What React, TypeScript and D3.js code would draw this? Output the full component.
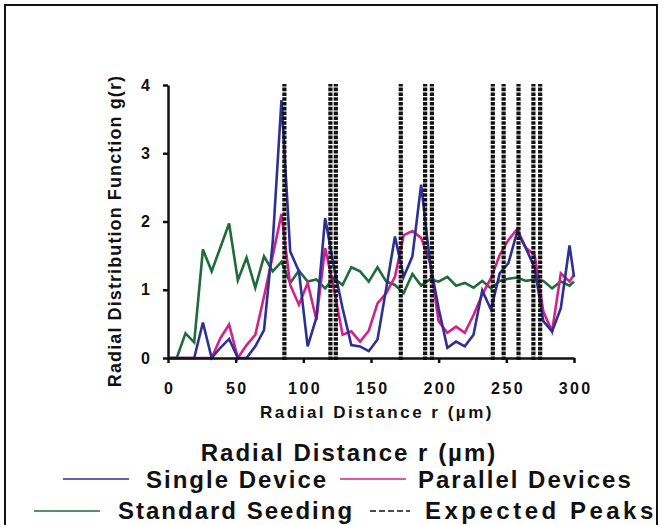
import React, { useRef, useEffect } from "react";
import { select, scaleLinear, axisBottom, axisLeft, line } from "d3";

// radial bins (µm)
const radius = [
  0, 6.45, 12.9, 19.35, 25.8, 32.25, 38.7, 45.15, 51.6, 58.05, 64.5, 70.95,
  77.4, 83.85, 90.3, 96.75, 103.2, 109.65, 116.1, 122.55, 129, 135.45, 141.9,
  148.35, 154.8, 161.25, 167.7, 174.15, 180.6, 187.05, 193.5, 199.95, 206.4,
  212.85, 219.3, 225.75, 232.2, 238.65, 245.1, 251.55, 258, 264.45, 270.9,
  277.35, 283.8, 290.25, 296.7, 300
];

const singleDevice = [
  0, 0, 0, 0, 0.52, 0, 0.15, 0.28, 0, 0, 0.17, 0.41, 1.7, 3.78, 1.56, 1.27,
  0.17, 0.59, 2.05, 1.34, 0.73, 0.19, 0.17, 0.1, 0.27, 1.02, 1.78, 1.19, 1.49,
  2.54, 1.41, 0.73, 0.15, 0.24, 0.17, 0.34, 0.99, 0.71, 1.24, 1.39, 1.85, 1.61,
  1.32, 0.54, 0.39, 0.73, 1.65, 1.19
];

const parallelDevices = [
  0, 0, 0, 0, 0, 0, 0.29, 0.49, 0, 0.19, 0.34, 0.9, 1.5, 2.11, 1.07, 0.78,
  1.1, 0.56, 1.61, 1.02, 0.34, 0.39, 0.24, 0.4, 0.8, 0.95, 1.19, 1.8, 1.86,
  1.76, 1.41, 0.54, 0.37, 0.46, 0.37, 0.63, 0.93, 1.17, 1.51, 1.73, 1.89, 1.61,
  1.51, 0.68, 0.39, 1.24, 1.12, 1.22
];

const standardSeeding = [
  0, 0, 0.36, 0.23, 1.59, 1.27, 1.62, 1.97, 1.14, 1.47, 1.03, 1.49, 1.27, 1.41,
  1.1, 1.28, 1.12, 1.15, 1.02, 1.17, 1.07, 1.33, 1.27, 1.12, 1.33, 1.12, 1.07,
  0.95, 1.23, 1.06, 1.15, 1.12, 1.19, 1.06, 1.1, 1.03, 1.13, 1.02, 1.13, 1.16,
  1.18, 1.13, 1.15, 1.13, 1.02, 1.12, 1.06, 1.12
];

const expectedPeaks = [86, 120, 124, 172, 190, 195, 240, 248, 259, 270, 275];

const xTicks = [0, 50, 100, 150, 200, 250, 300];
const yTicks = [0, 1, 2, 3, 4];

const FONT = "'Liberation Sans', Arial, Helvetica, sans-serif";
const BLUE = "#2e3192";
const PINK = "#d4218a";
const GREEN = "#1f6b3a";

const App = () => {
  const svgRef = useRef(null);

  useEffect(() => {
    const svg = select(svgRef.current);

    const xScale = scaleLinear().domain([0, 300]).range([168, 574]);
    const yScale = scaleLinear().domain([0, 4]).range([358, 85]);

    const series = [
      { values: standardSeeding, color: GREEN },
      { values: parallelDevices, color: PINK },
      { values: singleDevice, color: BLUE }
    ];

    const pathGen = line()
      .x(d => xScale(d[0]))
      .y(d => yScale(d[1]));

    svg
      .select(".series")
      .selectAll("path")
      .data(series)
      .join("path")
      .attr("d", s => pathGen(radius.map((r, i) => [r, s.values[i]])))
      .attr("fill", "none")
      .attr("stroke", s => s.color)
      .attr("stroke-width", 2.6);

    svg
      .select(".peaks")
      .selectAll("line")
      .data(expectedPeaks)
      .join("line")
      .attr("x1", d => xScale(d))
      .attr("x2", d => xScale(d))
      .attr("y1", yScale(0) + 2)
      .attr("y2", yScale(4) - 1)
      .attr("stroke", "#111")
      .attr("stroke-width", 4.2)
      .attr("stroke-dasharray", "3.6 1.2");

    const xAxis = axisBottom(xScale)
      .tickValues(xTicks)
      .tickFormat(d => String(d))
      .tickSize(5)
      .tickSizeOuter(0)
      .tickPadding(20);

    svg
      .select(".x-axis")
      .attr("transform", `translate(0,${yScale(0)})`)
      .call(xAxis)
      .call(g => g.select(".domain").attr("stroke-width", 2.5).attr("stroke", "#111"))
      .call(g => g.selectAll(".tick line").attr("stroke-width", 2.5).attr("stroke", "#111"))
      .call(g =>
        g
          .selectAll(".tick text")
          .attr("fill", "#111")
          .attr("dx", 1.2)
          .style("font-family", FONT)
          .style("font-weight", "bold")
          .style("font-size", "16px")
          .style("letter-spacing", "2.4px")
      );

    const yAxis = axisLeft(yScale)
      .tickValues(yTicks)
      .tickFormat(d => String(d))
      .tickSize(5)
      .tickSizeOuter(0)
      .tickPadding(13);

    svg
      .select(".y-axis")
      .attr("transform", `translate(${xScale(0)},0)`)
      .call(yAxis)
      .call(g => g.select(".domain").attr("stroke-width", 2.5).attr("stroke", "#111"))
      .call(g => g.selectAll(".tick line").attr("stroke-width", 2.5).attr("stroke", "#111"))
      .call(g =>
        g
          .selectAll(".tick text")
          .attr("fill", "#111")
          .style("font-family", FONT)
          .style("font-weight", "bold")
          .style("font-size", "16px")
      );
  }, []);

  const textStyle = {
    fontFamily: FONT,
    fontWeight: "bold",
    fill: "#111"
  };

  return (
    <svg
      ref={svgRef}
      width="663"
      height="525"
      viewBox="0 0 663 525"
      style={{ position: "absolute", left: 0, top: 0, background: "#fff" }}
    >
      <rect x="5" y="5" width="652" height="560" fill="none" stroke="#111" strokeWidth="2" />
      <g className="series"></g>
      <g className="peaks"></g>
      <g className="x-axis"></g>
      <g className="y-axis"></g>

      <text
        transform="translate(121,231) rotate(-90)"
        textAnchor="middle"
        style={{ ...textStyle, fontSize: "18px", letterSpacing: "1.1px" }}
      >
        Radial Distribution Function g(r)
      </text>
      <text
        x="377"
        y="418"
        textAnchor="middle"
        style={{ ...textStyle, fontSize: "17px", letterSpacing: "2.5px" }}
      >
        Radial Distance r (µm)
      </text>

      <g style={{ ...textStyle, fontSize: "24px", letterSpacing: "2px" }}>
        <text x="349" y="461" textAnchor="middle">
          Radial Distance r (µm)
        </text>

        <line x1="63" x2="129" y1="479" y2="479" stroke={BLUE} strokeWidth="1.4" />
        <text x="146" y="488">Single Device</text>
        <line x1="340" x2="406" y1="479" y2="479" stroke={PINK} strokeWidth="1.4" />
        <text x="418" y="488">Parallel Devices</text>

        <line x1="34" x2="100" y1="511" y2="511" stroke={GREEN} strokeWidth="1.4" />
        <text x="118" y="519">Standard Seeding</text>
        <line
          x1="370"
          x2="410"
          y1="511"
          y2="511"
          stroke="#111"
          strokeWidth="1.4"
          strokeDasharray="6 3"
        />
        <text x="425" y="519" style={{ letterSpacing: "3.5px" }}>
          Expected Peaks
        </text>
      </g>
    </svg>
  );
};

export default App;
